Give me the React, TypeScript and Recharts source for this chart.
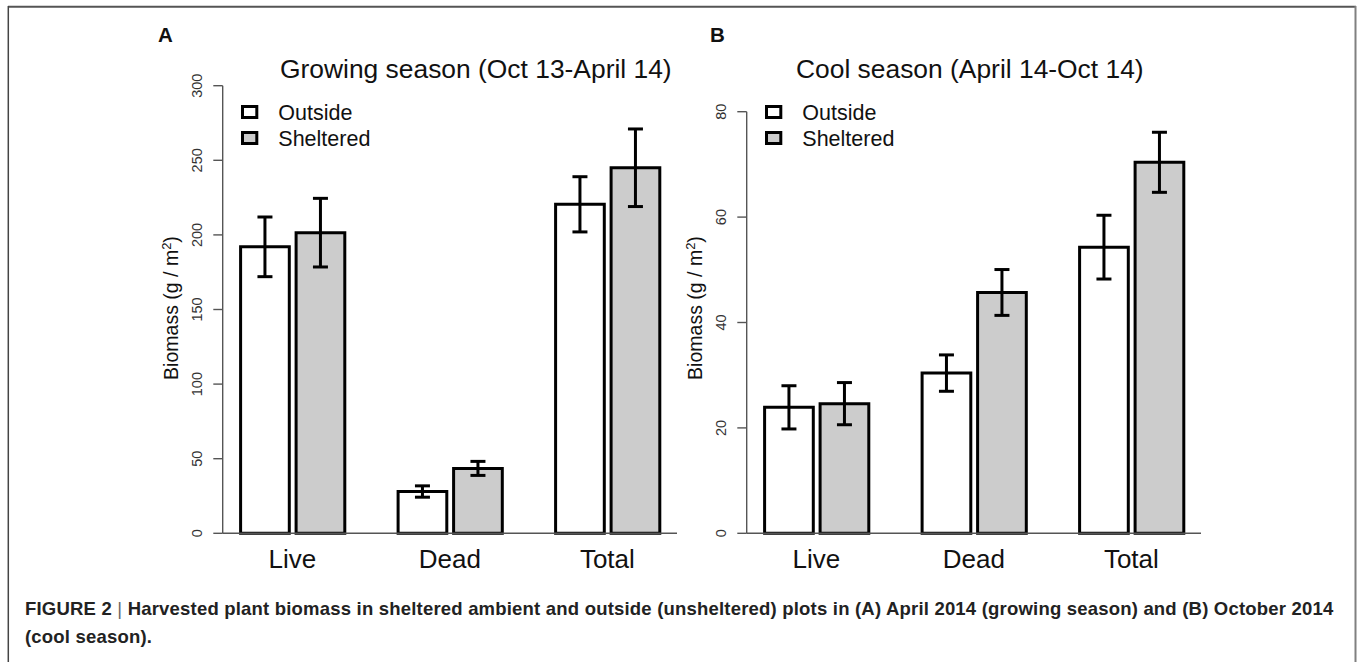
import React from 'react';
import { BarChart, Bar, XAxis, YAxis, ErrorBar, Legend } from 'recharts';

const categories = ['Live', 'Dead', 'Total'];
const seriesNames = ['Outside', 'Sheltered'];
const seriesFills = ['#ffffff', '#cccccc'];

const growingOutside = [192, 28, 220.5];
const growingOutsideErr = [20, 3.8, 18.5];
const growingSheltered = [201.5, 43.5, 245];
const growingShelteredErr = [23, 4.7, 26];
const growingTicks = [0, 50, 100, 150, 200, 250, 300];

const coolOutside = [23.9, 30.4, 54.3];
const coolOutsideErr = [4.1, 3.45, 6.05];
const coolSheltered = [24.6, 45.7, 70.4];
const coolShelteredErr = [4, 4.35, 5.7];
const coolTicks = [0, 20, 40, 60, 80];

const panelLetters = ['A', 'B'];
const panelTitles = ['Growing season (Oct 13-April 14)', 'Cool season (April 14-Oct 14)'];
const captionMain =
  'Harvested plant biomass in sheltered ambient and outside (unsheltered) plots in (A) April 2014 (growing season) and (B) October 2014';
const captionEnd = '(cool season).';

const FONT = '"Liberation Sans", Arial, Helvetica, sans-serif';

function buildRows(o: number[], oe: number[], s: number[], se: number[]) {
  return categories.map((c, i) => ({
    category: c,
    outside: o[i],
    outsideErr: oe[i],
    sheltered: s[i],
    shelteredErr: se[i],
  }));
}

const growingRows = buildRows(growingOutside, growingOutsideErr, growingSheltered, growingShelteredErr);
const coolRows = buildRows(coolOutside, coolOutsideErr, coolSheltered, coolShelteredErr);

const XTick = (props: any) => {
  const { x, y, payload } = props;
  return (
    <text x={x} y={y + 35} textAnchor="middle" fontSize={26} fontFamily={FONT} fill="#111">
      {payload.value}
    </text>
  );
};

const YTick = (props: any) => {
  const { x, y, payload } = props;
  return (
    <text
      x={x}
      y={y}
      transform={`rotate(-90, ${x}, ${y})`}
      textAnchor="middle"
      fontSize={14.5}
      fontFamily={FONT}
      fill="#333"
    >
      {payload.value}
    </text>
  );
};

const YLabel = () => (
  <text
    x={178}
    y={308}
    transform="rotate(-90, 178, 308)"
    textAnchor="middle"
    fontSize={19.5}
    fontFamily={FONT}
    fill="#111"
  >
    Biomass (g / m
    <tspan dy={-7} fontSize={13}>2</tspan>
    <tspan dy={7}>)</tspan>
  </text>
);

const LegendContent = (props: any) => {
  const payload = props.payload || [];
  return (
    <svg width={200} height={60} style={{ display: 'block', overflow: 'visible' }}>
      {payload.map((entry: any, i: number) => (
        <g key={i}>
          <rect
            x={12.5}
            y={11.5 + i * 26}
            width={14.3}
            height={11}
            fill={seriesFills[i]}
            stroke="#000"
            strokeWidth={3}
          />
          <text x={48.3} y={25 + i * 26} fontSize={21.5} fontFamily={FONT} fill="#111">
            {entry.value}
          </text>
        </g>
      ))}
    </svg>
  );
};

function Panel({ rows, ticks, top, left }: { rows: any[]; ticks: number[]; top: number; left: number }) {
  return (
    <div style={{ position: 'absolute', left, top: 0 }}>
      <BarChart
        width={700}
        height={600}
        data={rows}
        margin={{ top, right: 23, bottom: 16.7, left: 0 }}
        barSize={48.7}
        barGap={6.8}
      >
        <XAxis
          dataKey="category"
          height={50}
          padding={{ left: -9.1, right: -9.1 }}
          axisLine={{ stroke: '#555', strokeWidth: 1.5 }}
          tickLine={false}
          tickSize={0}
          tickMargin={0}
          tick={XTick}
          interval={0}
        />
        <YAxis
          type="number"
          domain={[0, ticks[ticks.length - 1]]}
          ticks={ticks}
          interval={0}
          width={222.7}
          tickSize={9.4}
          tickMargin={11.6}
          axisLine={{ stroke: '#555', strokeWidth: 1.4 }}
          tickLine={{ stroke: '#555', strokeWidth: 1.4 }}
          tick={YTick}
          label={{ content: YLabel }}
        />
        <Legend
          layout="vertical"
          align="center"
          verticalAlign="middle"
          content={LegendContent}
          wrapperStyle={{ left: 230, top: 95, width: 200, height: 60 }}
        />
        <Bar
          dataKey="outside"
          name={seriesNames[0]}
          fill={seriesFills[0]}
          stroke="#000"
          strokeWidth={3}
          isAnimationActive={false}
        >
          <ErrorBar dataKey="outsideErr" width={7.5} stroke="#000" strokeWidth={3} direction="y" />
        </Bar>
        <Bar
          dataKey="sheltered"
          name={seriesNames[1]}
          fill={seriesFills[1]}
          stroke="#000"
          strokeWidth={3}
          isAnimationActive={false}
        >
          <ErrorBar dataKey="shelteredErr" width={7.5} stroke="#000" strokeWidth={3} direction="y" />
        </Bar>
      </BarChart>
    </div>
  );
}

export default function App() {
  return (
    <div
      style={{
        position: 'absolute',
        left: 0,
        top: 0,
        width: 1363,
        height: 662,
        background: '#fff',
        overflow: 'hidden',
        fontFamily: FONT,
      }}
    >
      <Panel rows={growingRows} ticks={growingTicks} top={85.7} left={0} />
      <Panel rows={coolRows} ticks={coolTicks} top={111.7} left={524} />
      <svg
        width={1363}
        height={662}
        style={{ position: 'absolute', left: 0, top: 0, pointerEvents: 'none' }}
      >
        <line x1={8} y1={6.7} x2={1356} y2={6.7} stroke="#555" strokeWidth={2} />
        <line x1={8.3} y1={6} x2={8.3} y2={662} stroke="#444" strokeWidth={1.5} />
        <line x1={1355.5} y1={6} x2={1355.5} y2={662} stroke="#808080" strokeWidth={2} />
        <text x={158} y={41.7} fontSize={20.5} fontWeight="bold" fontFamily={FONT} fill="#111">
          {panelLetters[0]}
        </text>
        <text x={710} y={41.7} fontSize={20.5} fontWeight="bold" fontFamily={FONT} fill="#111">
          {panelLetters[1]}
        </text>
        <text x={280} y={78.3} fontSize={26.4} fontFamily={FONT} fill="#111">
          {panelTitles[0]}
        </text>
        <text x={796} y={78.3} fontSize={26.4} fontFamily={FONT} fill="#111">
          {panelTitles[1]}
        </text>
      </svg>
      <div
        style={{
          position: 'absolute',
          left: 25,
          top: 595,
          fontSize: 18.5,
          letterSpacing: 0.2,
          lineHeight: '27.6px',
          fontWeight: 'bold',
          color: '#222',
          whiteSpace: 'nowrap',
          fontFamily: FONT,
        }}
      >
        FIGURE 2 <span style={{ fontWeight: 'normal', color: '#666' }}>|</span> {captionMain}
        <br />
        {captionEnd}
      </div>
    </div>
  );
}
